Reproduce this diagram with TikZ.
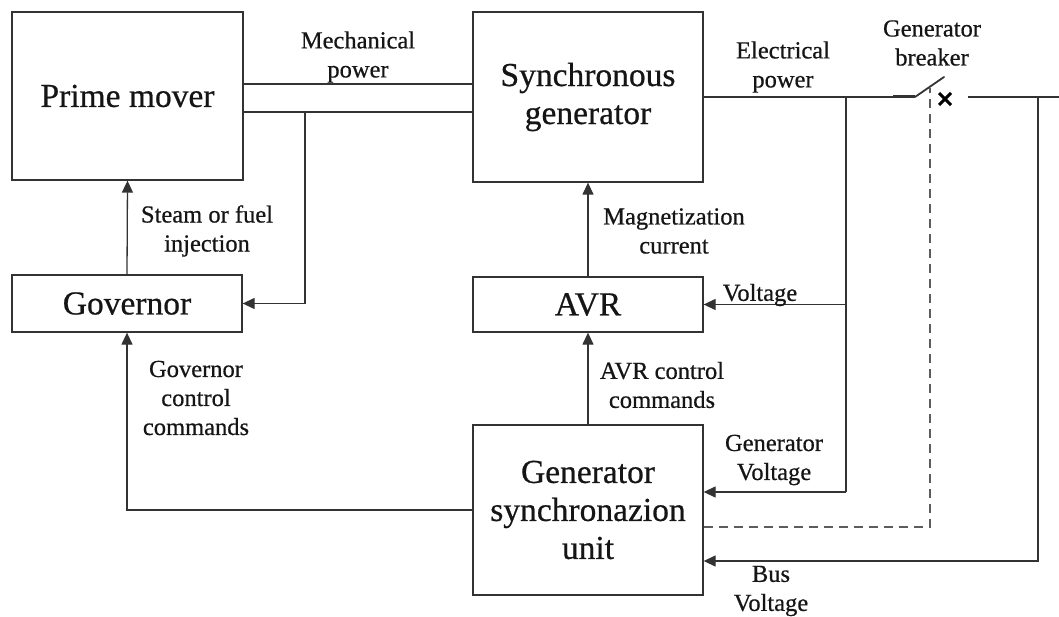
\documentclass[tikz,border=0pt]{standalone}
\usepackage{fontspec}
\setmainfont[FakeBold=0.6]{Liberation Serif}
\usetikzlibrary{arrows.meta,calc}
\definecolor{ln}{HTML}{333333}
\definecolor{tx}{HTML}{151515}
\begin{document}
\begin{tikzpicture}[x=1pt,y=-1pt,
  blk/.style={draw=ln,line width=1.3pt,inner sep=0pt,align=center,text=tx,font=\fontsize{33.5}{38}\selectfont},
  lbl/.style={align=center,text=tx,inner sep=0pt,font=\fontsize{24.5}{29}\selectfont},
  wire/.style={draw=ln,line width=1.3pt},
  arr/.style={wire,-{Triangle[length=12pt,width=11pt]}},
  ]
\useasboundingbox (0,0) rectangle (1059,617);
% blocks
\node[blk,minimum width=231pt,minimum height=168pt] (pm) at (127.5,96) {Prime mover};
\node[blk,minimum width=230pt,minimum height=170pt] (sg) at (588,97) {Synchronous\\generator};
\node[blk,minimum width=230pt,minimum height=57pt] (gov) at (127,303.5) {Governor};
\node[blk,minimum width=230pt,minimum height=55pt] (avr) at (588,304.5) {AVR};
\node[blk,minimum width=230pt,minimum height=170pt] (gsu) at (588,510) {Generator\\synchronazion\\unit};
% coordinates
\coordinate (shT1) at (pm.east |- 0,84);
\coordinate (shT2) at (sg.west |- 0,84);
\coordinate (shB1) at (pm.east |- 0,112);
\coordinate (shB2) at (sg.west |- 0,112);
\coordinate (shF) at (305,112);
\coordinate (shC) at (305,303.5);
\coordinate (ep0) at (sg.east |- 0,97);
\coordinate (brA) at (915,97);
\coordinate (brT) at (893,97);
\coordinate (brB) at (944,77);
\coordinate (brX) at (945,99);
\coordinate (brR) at (968,97);
\coordinate (bus) at (1059,97);
\coordinate (gvT) at (846,97);
\coordinate (gvV) at (846,304.5);
\coordinate (gvB) at (846,492);
\coordinate (bvT) at (1038,97);
\coordinate (bvB) at (1038,561);
\coordinate (dsT) at (930,88);
\coordinate (dsC) at (930,527);
\coordinate (gcC) at (127,510);
% shaft
\draw[wire] (shT1) -- (shT2);
\draw[wire] (shB1) -- (shB2);
\draw[arr] (shF) -- (shC) -- (gov.east |- shC);
% control arrows
\draw[arr] (gov.north) -- (pm.south);
\draw[arr] (avr.north) -- (sg.south);
\draw[arr] (gsu.north) -- (avr.south);
\draw[arr] (gsu.west) -- (gcC) -- (gov.south);
% electrical
\draw[draw=ln,line width=1.8pt] (ep0) -- (brA);
\draw[draw=ln,line width=3pt] (brT) -- (brA);
\draw[draw=ln,line width=1.8pt,line cap=round] (brA) -- (brB);
\draw[draw=black,line width=3pt] ($(brX)+(-6,-6)$) -- ($(brX)+(6,6)$) ($(brX)+(-6,6)$) -- ($(brX)+(6,-6)$);
\draw[draw=ln,line width=1.8pt] (brR) -- (bus);
\draw[wire] (gvT) -- (gvB);
\draw[arr] (gvV) -- (avr.east |- gvV);
\draw[arr] (gvB) -- (gsu.east |- gvB);
\draw[arr] (bvT) -- (bvB) -- (gsu.east |- bvB);
\draw[draw=ln!80,line width=1.3pt,dash pattern=on 9pt off 6pt] (gsu.east |- dsC) -- (dsC) -- (dsT);
% labels
\node[lbl] (lmp) at (358,57) {Mechanical\\power};
\node[lbl] (lep) at (783,67) {Electrical\\power};
\node[lbl] (lgb) at (932,43) {Generator\\breaker};
\node[lbl] (lsf) at (207,231) {Steam or fuel\\injection};
\node[lbl] (lmc) at (674,231) {Magnetization\\current};
\node[lbl] (lv) at (760,295) {Voltage};
\node[lbl] (lac) at (662,385) {AVR control\\commands};
\node[lbl] (lgc) at (196,398) {Governor\\control\\commands};
\node[lbl] (lgv) at (774,460) {Generator\\Voltage};
\node[lbl] (lbv) at (771,591) {Bus\\Voltage};
\end{tikzpicture}
\end{document}
